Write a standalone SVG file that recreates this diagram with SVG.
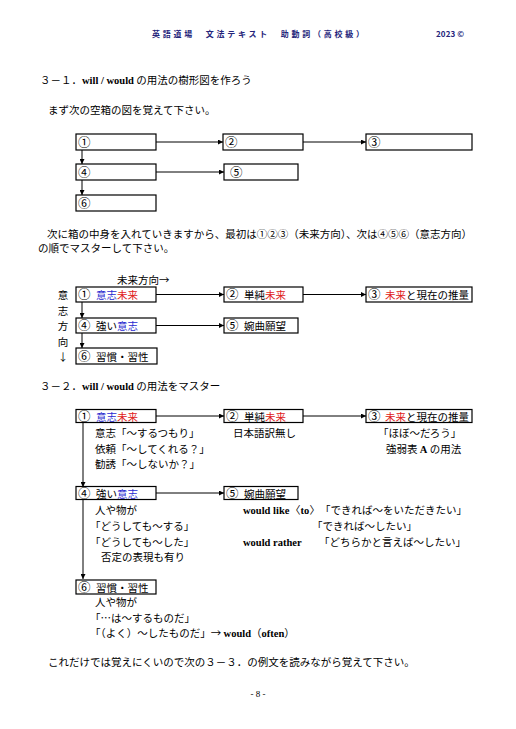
<svg xmlns="http://www.w3.org/2000/svg" width="516" height="729" viewBox="0 0 516 729">
<defs>
<style>
.t{font-family:"Noto Sans CJK JP","Liberation Sans",sans-serif;font-size:10.5px;fill:#000}
.c{font-size:12.5px}
.e{font-family:"Liberation Serif",serif;font-weight:bold}
.b{fill:#2a2ad0}
.r{fill:#e02020}
.h{font-family:"Noto Sans CJK JP",sans-serif;font-size:8px;font-weight:bold;fill:#24247a}
.box{fill:#fff;stroke:#000;stroke-width:1.2}
.ln{stroke:#000;stroke-width:1;fill:none}
.pg{font-family:"Liberation Serif",serif;font-size:9px;fill:#000}
</style>
<marker id="ah" markerWidth="5" markerHeight="5" refX="5" refY="2.5" orient="auto" markerUnits="userSpaceOnUse">
<path d="M0,0 L5,2.5 L0,5 z" fill="#000"/>
</marker>
</defs>
<rect width="516" height="729" fill="#fff"/>

<!-- header -->
<text class="h" x="152" y="37" textLength="212" lengthAdjust="spacing">英語道場　文法テキスト　助動詞（高校級）</text>
<text class="h" x="436" y="37" textLength="28" lengthAdjust="spacing">2023 ©</text>

<!-- section 3-1 -->
<text class="t" x="40" y="84">３－１．<tspan class="e">will / would</tspan> の用法の樹形図を作ろう</text>
<text class="t" x="48" y="114">まず次の空箱の図を覚えて下さい。</text>

<g id="connectors1">
<line class="ln" x1="156" y1="142" x2="223" y2="142" marker-end="url(#ah)"/>
<line class="ln" x1="303" y1="142" x2="366" y2="142" marker-end="url(#ah)"/>
<line class="ln" x1="82" y1="150" x2="82" y2="164" marker-end="url(#ah)"/>
<line class="ln" x1="156" y1="172" x2="224" y2="172" marker-end="url(#ah)"/>
<line class="ln" x1="82" y1="180" x2="82" y2="195" marker-end="url(#ah)"/>
</g>
<g id="s1n1"><rect class="box" x="76" y="134" width="80" height="16"/><text class="t c" x="78" y="146.5">①</text></g>
<g id="s1n2"><rect class="box" x="223" y="134" width="80" height="16"/><text class="t c" x="225" y="146.5">②</text></g>
<g id="s1n3"><rect class="box" x="366" y="134" width="106" height="16"/><text class="t c" x="368" y="146.5">③</text></g>
<g id="s1n4"><rect class="box" x="76" y="164" width="80" height="16"/><text class="t c" x="78" y="176.5">④</text></g>
<g id="s1n5"><rect class="box" x="224" y="164" width="74" height="16"/><text class="t c" x="230" y="176.5">⑤</text></g>
<g id="s1n6"><rect class="box" x="76" y="195" width="80" height="16"/><text class="t c" x="78" y="207.5">⑥</text></g>

<text class="t" x="47" y="238">次に箱の中身を入れていきますから、最初は①②③（未来方向）、次は④⑤⑥（意志方向）</text>
<text class="t" x="38" y="252">の順でマスターして下さい。</text>

<!-- section 2 tree -->
<text class="t" x="117" y="284">未来方向→</text>
<g id="axis">
<text class="t" x="63" y="299" text-anchor="middle">意</text>
<text class="t" x="63" y="315" text-anchor="middle">志</text>
<text class="t" x="63" y="330" text-anchor="middle">方</text>
<text class="t" x="63" y="346" text-anchor="middle">向</text>
<text class="t" x="63" y="361" text-anchor="middle">↓</text>
</g>
<g id="connectors2">
<line class="ln" x1="156" y1="294.5" x2="224" y2="294.5" marker-end="url(#ah)"/>
<line class="ln" x1="303" y1="294.5" x2="366" y2="294.5" marker-end="url(#ah)"/>
<line class="ln" x1="82" y1="302" x2="82" y2="318" marker-end="url(#ah)"/>
<line class="ln" x1="156" y1="325.5" x2="224" y2="325.5" marker-end="url(#ah)"/>
<line class="ln" x1="82" y1="333" x2="82" y2="348" marker-end="url(#ah)"/>
</g>
<g id="s2n1"><rect class="box" x="76" y="287" width="80" height="15"/><text class="t" y="299"><tspan class="c" x="78">①</tspan><tspan x="96" class="b">意志</tspan><tspan class="r">未来</tspan></text></g>
<g id="s2n2"><rect class="box" x="224" y="287" width="79" height="15"/><text class="t" y="299"><tspan class="c" x="226">②</tspan><tspan x="244">単純</tspan><tspan class="r">未来</tspan></text></g>
<g id="s2n3"><rect class="box" x="366" y="287" width="106" height="15"/><text class="t" y="299"><tspan class="c" x="368">③</tspan><tspan x="385" class="r">未来</tspan>と現在の推量</text></g>
<g id="s2n4"><rect class="box" x="76" y="318" width="80" height="15"/><text class="t" y="330"><tspan class="c" x="78">④</tspan><tspan x="96">強い</tspan><tspan class="b">意志</tspan></text></g>
<g id="s2n5"><rect class="box" x="224" y="318" width="74" height="15"/><text class="t" y="330"><tspan class="c" x="226">⑤</tspan><tspan x="244">婉曲願望</tspan></text></g>
<g id="s2n6"><rect class="box" x="76" y="348" width="81" height="16"/><text class="t" y="360.5"><tspan class="c" x="78">⑥</tspan><tspan x="96">習慣・習性</tspan></text></g>

<!-- section 3-2 -->
<text class="t" x="40" y="390">３－２．<tspan class="e">will / would</tspan> の用法をマスター</text>

<g id="connectors3">
<line class="ln" x1="156" y1="416" x2="224" y2="416" marker-end="url(#ah)"/>
<line class="ln" x1="303" y1="416" x2="366" y2="416" marker-end="url(#ah)"/>
<line class="ln" x1="83" y1="422.5" x2="83" y2="487" marker-end="url(#ah)"/>
<line class="ln" x1="156" y1="493" x2="224" y2="493" marker-end="url(#ah)"/>
<line class="ln" x1="83" y1="499.5" x2="83" y2="579" marker-end="url(#ah)"/>
</g>
<g id="s3n1">
<rect class="box" x="76" y="409.5" width="80" height="13"/>
<text class="t" y="420.5"><tspan class="c" x="78">①</tspan><tspan x="96" class="b">意志</tspan><tspan class="r">未来</tspan></text>
<text class="t" x="95" y="437">意志「～するつもり」</text>
<text class="t" x="95" y="453">依頼「～してくれる？」</text>
<text class="t" x="95" y="468">勧誘「～しないか？」</text>
</g>
<g id="s3n2">
<rect class="box" x="224" y="409.5" width="79" height="13"/>
<text class="t" y="420.5"><tspan class="c" x="226">②</tspan><tspan x="244">単純</tspan><tspan class="r">未来</tspan></text>
<text class="t" x="233" y="437">日本語訳無し</text>
</g>
<g id="s3n3">
<rect class="box" x="366" y="409.5" width="106" height="13"/>
<text class="t" y="420.5"><tspan class="c" x="368">③</tspan><tspan x="385" class="r">未来</tspan>と現在の推量</text>
<text class="t" x="378" y="437">「ほぼ～だろう」</text>
<text class="t" x="386" y="453">強弱表 <tspan class="e">A</tspan> の用法</text>
</g>
<g id="s3n4">
<rect class="box" x="76" y="486.5" width="80" height="13"/>
<text class="t" y="497.5"><tspan class="c" x="78">④</tspan><tspan x="96">強い</tspan><tspan class="b">意志</tspan></text>
<text class="t" x="95" y="514">人や物が</text>
<text class="t" x="90" y="530">「どうしても～する」</text>
<text class="t" x="90" y="546">「どうしても～した」</text>
<text class="t" x="101" y="561">否定の表現も有り</text>
</g>
<g id="s3n5">
<rect class="box" x="224" y="486.5" width="74" height="13"/>
<text class="t" y="497.5"><tspan class="c" x="226">⑤</tspan><tspan x="244">婉曲願望</tspan></text>
<text class="t" x="243" y="514"><tspan class="e">would like</tspan><tspan x="290">〈</tspan><tspan class="e" x="300.5">to</tspan><tspan x="309.5">〉</tspan><tspan x="320">「できれば～をいただきたい」</tspan></text>
<text class="t" x="312" y="530">「できれば～したい」</text>
<text class="t" x="243" y="546"><tspan class="e">would rather</tspan><tspan x="319">「どちらかと言えば～したい」</tspan></text>
</g>
<g id="s3n6">
<rect class="box" x="76" y="580" width="80" height="14"/>
<text class="t" y="591.5"><tspan class="c" x="78">⑥</tspan><tspan x="96">習慣・習性</tspan></text>
<text class="t" x="95" y="606">人や物が</text>
<text class="t" x="90" y="622">「…は～するものだ」</text>
<text class="t" x="90" y="637">「（よく）～したものだ」→ <tspan class="e">would</tspan>（<tspan class="e">often</tspan>）</text>
</g>

<text class="t" x="48" y="666">これだけでは覚えにくいので次の３－３．の例文を読みながら覚えて下さい。</text>
<text class="pg" x="258" y="697" text-anchor="middle">- 8 -</text>
</svg>
